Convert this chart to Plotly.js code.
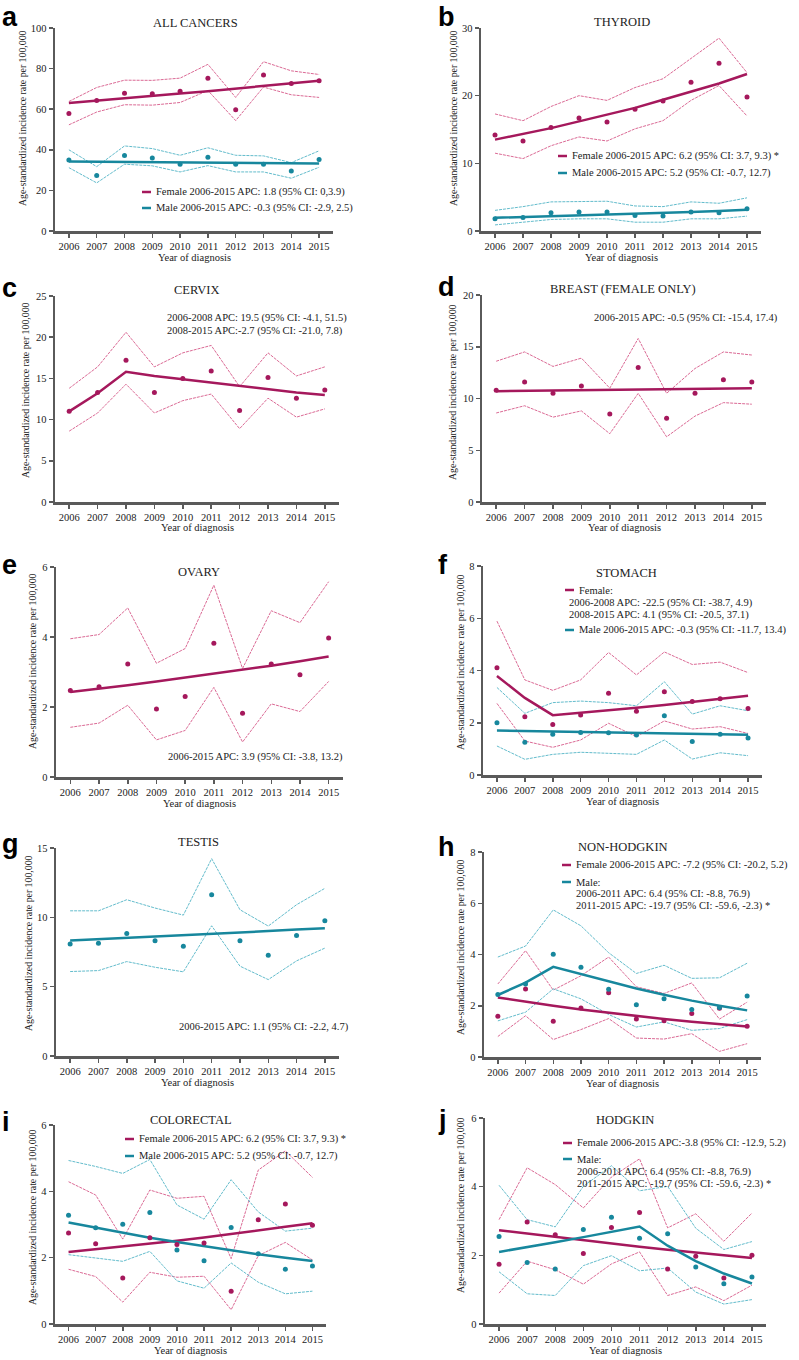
<!DOCTYPE html>
<html>
<head>
<meta charset="utf-8">
<script src="https://cdn.plot.ly/plotly-3.0.1.min.js"></script>
<style>
  html, body { margin: 0; padding: 0; background: #fff; }
  #chart { width: 799px; height: 1360px; }
</style>
</head>
<body>
<div id="chart"></div>
<script>
// years on every x axis
var years = [2006, 2007, 2008, 2009, 2010, 2011, 2012, 2013, 2014, 2015];

// a - all cancers
var aFemaleObs = [57.9, 64.3, 67.9, 67.6, 68.8, 75.3, 59.7, 76.8, 72.6, 74.0];
var aFemaleFit = [63.0, 64.1, 65.3, 66.5, 67.7, 68.9, 70.1, 71.4, 72.7, 74.0];
var aFemaleUp  = [63.8, 70.7, 74.3, 74.2, 75.3, 82.1, 65.8, 83.4, 78.9, 77.1];
var aFemaleLo  = [52.3, 58.6, 62.2, 62.0, 63.3, 69.2, 54.4, 70.9, 67.1, 65.8];
var aMaleObs = [35.0, 27.3, 37.2, 36.0, 32.9, 36.3, 32.9, 32.9, 29.6, 35.2];
var aMaleFit = [34.2, 34.1, 34.0, 33.9, 33.8, 33.7, 33.6, 33.5, 33.4, 33.3];
var aMaleUp  = [40.0, 31.7, 41.9, 40.6, 37.3, 41.0, 37.3, 37.0, 33.7, 39.5];
var aMaleLo  = [31.2, 23.7, 32.9, 32.1, 29.1, 32.2, 29.1, 29.1, 26.0, 31.4];

// b - thyroid
var bFemaleObs = [14.2, 13.3, 15.3, 16.7, 16.1, 18.0, 19.2, 22.0, 24.8, 19.8];
var bFemaleFit = [13.5, 14.3, 15.2, 16.2, 17.2, 18.2, 19.4, 20.6, 21.8, 23.2];
var bFemaleUp  = [17.3, 16.3, 18.4, 20.0, 19.3, 21.2, 22.5, 25.5, 28.5, 23.4];
var bFemaleLo  = [11.5, 10.7, 12.6, 13.9, 13.3, 15.1, 16.3, 19.3, 21.5, 17.0];
var bMaleObs = [1.8, 2.0, 2.7, 2.8, 2.8, 2.3, 2.2, 2.8, 2.7, 3.3];
var bMaleFit = [1.95, 2.06, 2.18, 2.3, 2.42, 2.55, 2.68, 2.82, 2.97, 3.15];
var bMaleUp  = [3.05, 3.6, 4.3, 4.4, 4.4, 3.7, 3.6, 4.3, 4.1, 4.9];
var bMaleLo  = [0.9, 1.3, 1.7, 1.8, 1.8, 1.3, 1.3, 1.8, 1.8, 2.2];

// c - cervix
var cObs = [11.0, 13.3, 17.2, 13.3, 15.0, 15.9, 11.1, 15.1, 12.6, 13.6];
var cFit = [11.0, 13.2, 15.8, 15.3, 14.9, 14.5, 14.1, 13.7, 13.3, 13.0];
var cUp  = [13.8, 16.4, 20.6, 16.4, 18.1, 19.0, 14.0, 18.1, 15.3, 16.4];
var cLo  = [8.6, 10.8, 14.3, 10.8, 12.3, 13.1, 8.9, 12.6, 10.3, 11.3];

// d - breast
var dObs = [10.8, 11.6, 10.5, 11.2, 8.5, 13.0, 8.1, 10.5, 11.8, 11.6];
var dFit = [10.7, 10.73, 10.77, 10.8, 10.83, 10.87, 10.9, 10.93, 10.97, 11.0];
var dUp  = [13.6, 14.5, 13.1, 13.9, 11.0, 15.8, 10.5, 12.9, 14.5, 14.2];
var dLo  = [8.6, 9.3, 8.2, 8.8, 6.6, 10.5, 6.3, 8.3, 9.6, 9.45];

// e - ovary
var eObs = [2.47, 2.58, 3.23, 1.94, 2.30, 3.82, 1.82, 3.23, 2.92, 3.97];
var eFit = [2.43, 2.52, 2.62, 2.73, 2.84, 2.95, 3.06, 3.18, 3.31, 3.44];
var eUp  = [3.95, 4.07, 4.83, 3.25, 3.67, 5.48, 3.10, 4.75, 4.41, 5.58];
var eLo  = [1.42, 1.54, 2.05, 1.06, 1.33, 2.56, 1.0, 2.09, 1.87, 2.73];

// f - stomach
var fFemaleObs = [4.11, 2.23, 1.93, 2.30, 3.13, 2.44, 3.19, 2.81, 2.92, 2.55];
var fFemaleFit = [3.79, 2.95, 2.29, 2.38, 2.47, 2.57, 2.68, 2.79, 2.90, 3.03];
var fFemaleUp  = [5.89, 3.64, 3.24, 3.64, 4.69, 3.83, 4.71, 4.23, 4.32, 3.92];
var fFemaleLo  = [2.74, 1.30, 1.06, 1.34, 1.98, 1.47, 2.07, 1.76, 1.85, 1.59];
var fMaleObs = [2.0, 1.25, 1.56, 1.63, 1.62, 1.53, 2.27, 1.28, 1.56, 1.42];
var fMaleFit = [1.70, 1.68, 1.66, 1.65, 1.63, 1.61, 1.59, 1.58, 1.56, 1.54];
var fMaleUp  = [3.35, 2.36, 2.77, 2.83, 2.77, 2.65, 3.57, 2.33, 2.65, 2.46];
var fMaleLo  = [1.11, 0.60, 0.79, 0.87, 0.83, 0.79, 1.34, 0.61, 0.85, 0.74];

// g - testis
var gObs = [8.07, 8.14, 8.84, 8.31, 7.92, 11.63, 8.31, 7.27, 8.69, 9.75];
var gFit = [8.33, 8.42, 8.52, 8.61, 8.71, 8.81, 8.91, 9.01, 9.12, 9.22];
var gUp  = [10.47, 10.47, 11.27, 10.67, 10.16, 14.23, 10.55, 9.37, 10.91, 12.09];
var gLo  = [6.09, 6.16, 6.81, 6.40, 6.07, 9.39, 6.48, 5.51, 6.86, 7.78];

// h - non-hodgkin
var hFemaleObs = [1.59, 2.65, 1.40, 1.91, 2.51, 1.48, 1.41, 1.70, 1.90, 1.20];
var hFemaleFit = [2.32, 2.15, 2.00, 1.85, 1.72, 1.60, 1.48, 1.38, 1.28, 1.19];
var hFemaleUp  = [2.85, 4.15, 2.61, 3.17, 3.90, 2.74, 2.48, 2.89, 1.48, 2.14];
var hFemaleLo  = [0.80, 1.61, 0.68, 1.07, 1.50, 0.74, 0.70, 0.91, 0.22, 0.52];
var hMaleObs = [2.44, 2.85, 4.01, 3.50, 2.64, 2.04, 2.27, 1.85, 1.93, 2.38];
var hMaleFit = [2.42, 2.90, 3.52, 3.23, 2.94, 2.67, 2.43, 2.20, 2.00, 1.82];
var hMaleUp  = [3.90, 4.33, 5.74, 5.12, 4.07, 3.26, 3.58, 3.07, 3.09, 3.66];
var hMaleLo  = [1.41, 1.75, 2.66, 2.27, 1.66, 1.17, 1.37, 1.04, 1.11, 1.46];

// i - colorectal
var iFemaleObs = [2.74, 2.42, 1.39, 2.60, 2.40, 2.44, 0.99, 3.14, 3.62, 2.98];
var iFemaleFit = [2.17, 2.25, 2.33, 2.42, 2.51, 2.61, 2.71, 2.82, 2.93, 3.04];
var iFemaleUp  = [4.29, 3.89, 2.56, 4.04, 3.79, 3.85, 1.97, 4.64, 5.22, 4.42];
var iFemaleLo  = [1.65, 1.43, 0.66, 1.56, 1.41, 1.44, 0.43, 2.06, 2.46, 1.93];
var iMaleObs = [3.28, 2.90, 3.01, 3.36, 2.23, 1.91, 2.91, 2.12, 1.65, 1.75];
var iMaleFit = [3.06, 2.90, 2.75, 2.60, 2.47, 2.34, 2.22, 2.10, 2.00, 1.90];
var iMaleUp  = [4.93, 4.75, 4.54, 4.96, 3.59, 3.16, 4.35, 3.38, 2.80, 2.89];
var iMaleLo  = [2.09, 1.99, 1.89, 2.19, 1.30, 1.08, 1.84, 1.26, 0.91, 0.99];

// j - hodgkin
var jFemaleObs = [1.74, 2.97, 2.60, 2.05, 2.81, 3.25, 1.60, 1.97, 1.34, 2.00];
var jFemaleFit = [2.73, 2.63, 2.53, 2.43, 2.34, 2.25, 2.16, 2.08, 2.00, 1.92];
var jFemaleUp  = [3.04, 4.55, 4.06, 3.38, 4.28, 4.81, 2.80, 3.21, 2.41, 3.23];
var jFemaleLo  = [0.90, 1.83, 1.58, 1.16, 1.75, 2.10, 0.83, 1.08, 0.68, 1.13];
var jMaleObs = [2.55, 1.79, 1.60, 2.75, 3.11, 2.50, 2.63, 1.66, 1.17, 1.37];
var jMaleFit = [2.10, 2.23, 2.38, 2.53, 2.69, 2.84, 2.28, 1.83, 1.47, 1.18];
var jMaleUp  = [4.04, 3.04, 2.83, 4.01, 4.61, 3.88, 4.01, 2.79, 2.17, 2.40];
var jMaleLo  = [1.52, 0.88, 0.83, 1.70, 1.99, 1.55, 1.63, 0.93, 0.58, 0.71];

// styling
var W = 799, H = 1360;
var SERIF = 'Liberation Serif, Times New Roman, serif';
var SANS = 'Liberation Sans, Arial, sans-serif';
var AXIS = '#5a5a5a';
var TXT = '#222';
var COL = {
  f: {main: '#a5185c', ci: '#db6a95'},
  m: {main: '#17879d', ci: '#63bccc'}
};
var YTITLE = 'Age-standardized incidence rate per 100,000';

function px(x) { return x / W; }
function py(y) { return 1 - y / H; }

// layout of each panel (pixel boxes), plus its series and legend lines
var panels = [
  {letter: 'a', title: 'ALL CANCERS', ymax: 100, dtick: 20, box: [55, 333, 28, 231],
   titlePos: [195, 23], letterPos: [0, 17], yt: [22, 118],
   series: [['f', aFemaleObs, aFemaleFit, aFemaleUp, aFemaleLo], ['m', aMaleObs, aMaleFit, aMaleUp, aMaleLo]],
   legend: [[154, 192, 'Female 2006-2015 APC: 1.8 (95% CI: 0,3.9)', 'f'],
            [154, 208, 'Male 2006-2015 APC: -0.3 (95% CI: -2.9, 2.5)', 'm']]},
  {letter: 'b', title: 'THYROID', ymax: 30, dtick: 10, box: [481, 761, 28, 231],
   titlePos: [622, 22], letterPos: [436, 17], yt: [453, 118],
   series: [['f', bFemaleObs, bFemaleFit, bFemaleUp, bFemaleLo], ['m', bMaleObs, bMaleFit, bMaleUp, bMaleLo]],
   legend: [[570, 156, 'Female 2006-2015 APC: 6.2 (95% CI: 3.7, 9.3) *', 'f'],
            [570, 173, 'Male 2006-2015 APC: 5.2 (95% CI: -0.7, 12.7)', 'm']]},
  {letter: 'c', title: 'CERVIX', ymax: 25, dtick: 5, box: [55, 339, 296, 502],
   titlePos: [197, 290], letterPos: [0, 288], yt: [25, 390],
   series: [['f', cObs, cFit, cUp, cLo]],
   legend: [[165, 318, '2006-2008 APC: 19.5 (95% CI: -4.1, 51.5)', null],
            [165, 331, '2008-2015 APC:-2.7 (95% CI: -21.0, 7.8)', null]]},
  {letter: 'd', title: 'BREAST (FEMALE ONLY)', ymax: 20, dtick: 5, box: [482, 766, 295, 502],
   titlePos: [623, 289], letterPos: [436, 287], yt: [453, 392],
   series: [['f', dObs, dFit, dUp, dLo]],
   legend: [[592, 318, '2006-2015 APC: -0.5 (95% CI: -15.4, 17.4)', null]]},
  {letter: 'e', title: 'OVARY', ymax: 6, dtick: 2, box: [56, 343, 567, 777],
   titlePos: [199, 572], letterPos: [0, 565], yt: [32, 661],
   series: [['f', eObs, eFit, eUp, eLo]],
   legend: [[166, 757, '2006-2015 APC: 3.9 (95% CI: -3.8, 13.2)', null]]},
  {letter: 'f', title: 'STOMACH', ymax: 8, dtick: 2, box: [483, 762, 566, 775],
   titlePos: [626, 573], letterPos: [436, 565], yt: [460, 662],
   series: [['f', fFemaleObs, fFemaleFit, fFemaleUp, fFemaleLo], ['m', fMaleObs, fMaleFit, fMaleUp, fMaleLo]],
   legend: [[577, 590, 'Female:', 'f'],
            [567, 603, '2006-2008 APC: -22.5 (95% CI: -38.7, 4.9)', null],
            [567, 615, '2008-2015 APC: 4.1 (95% CI: -20.5, 37.1)', null],
            [577, 630, 'Male 2006-2015 APC: -0.3 (95% CI: -11.7, 13.4)', 'm']]},
  {letter: 'g', title: 'TESTIS', ymax: 15, dtick: 5, box: [56, 339, 848, 1056],
   titlePos: [198, 842], letterPos: [0, 844], yt: [28, 943],
   series: [['m', gObs, gFit, gUp, gLo]],
   legend: [[177, 1027, '2006-2015 APC: 1.1 (95% CI: -2.2, 4.7)', null]]},
  {letter: 'h', title: 'NON-HODGKIN', ymax: 8, dtick: 2, box: [484, 761, 852, 1057],
   titlePos: [623, 847], letterPos: [436, 847], yt: [460, 947],
   series: [['f', hFemaleObs, hFemaleFit, hFemaleUp, hFemaleLo], ['m', hMaleObs, hMaleFit, hMaleUp, hMaleLo]],
   legend: [[574, 865, 'Female 2006-2015 APC: -7.2 (95% CI: -20.2, 5.2)', 'f'],
            [574, 882, 'Male:', 'm'],
            [574, 894, '2006-2011 APC: 6.4 (95% CI: -8.8, 76.9)', null],
            [574, 906, '2011-2015 APC: -19.7 (95% CI: -59.6, -2.3) *', null]]},
  {letter: 'i', title: 'COLORECTAL', ymax: 6, dtick: 2, box: [55, 326, 1125, 1324],
   titlePos: [191, 1120], letterPos: [0, 1122], yt: [32, 1217],
   series: [['f', iFemaleObs, iFemaleFit, iFemaleUp, iFemaleLo], ['m', iMaleObs, iMaleFit, iMaleUp, iMaleLo]],
   legend: [[137, 1139, 'Female 2006-2015 APC: 6.2 (95% CI: 3.7, 9.3) *', 'f'],
            [137, 1156, 'Male 2006-2015 APC: 5.2 (95% CI: -0.7, 12.7)', 'm']]},
  {letter: 'j', title: 'HODGKIN', ymax: 6, dtick: 2, box: [485, 766, 1118, 1324],
   titlePos: [625, 1120], letterPos: [436, 1120], yt: [460, 1205],
   series: [['f', jFemaleObs, jFemaleFit, jFemaleUp, jFemaleLo], ['m', jMaleObs, jMaleFit, jMaleUp, jMaleLo]],
   legend: [[575, 1143, 'Female 2006-2015 APC:-3.8 (95% CI: -12.9, 5.2)', 'f'],
            [575, 1159, 'Male:', 'm'],
            [575, 1172, '2006-2011 APC: 6.4 (95% CI: -8.8, 76.9)', null],
            [575, 1184, '2011-2015 APC: -19.7 (95% CI: -59.6, -2.3) *', null]]}
];

var data = [];
var annotations = [];
var shapes = [];
var layout = {
  width: W, height: H,
  margin: {l: 0, r: 0, t: 0, b: 0},
  paper_bgcolor: '#fff', plot_bgcolor: 'rgba(0,0,0,0)',
  showlegend: false,
  font: {family: SERIF, color: TXT}
};

function note(x, y, text, opts) {
  var a = {xref: 'paper', yref: 'paper', x: px(x), y: py(y), text: text, showarrow: false,
           xanchor: 'left', yanchor: 'middle', font: {family: SERIF, size: 10.5, color: TXT}};
  for (var k in opts) a[k] = opts[k];
  annotations.push(a);
}

panels.forEach(function (p, i) {
  var s = i === 0 ? '' : String(i + 1);
  var xa = 'x' + s, ya = 'y' + s;
  layout['xaxis' + s] = {
    domain: [px(p.box[0]), px(p.box[1])], anchor: ya,
    range: [2005.5, 2015.5], tickmode: 'array', tickvals: years, ticktext: years.map(String),
    showline: true, linecolor: AXIS, linewidth: 2.5, ticks: 'outside', ticklen: 4,
    tickwidth: 1.5, tickcolor: AXIS, showgrid: false, zeroline: false, fixedrange: true,
    tickfont: {family: SERIF, size: 10.5, color: TXT}
  };
  layout['yaxis' + s] = {
    domain: [py(p.box[3]), py(p.box[2])], anchor: xa,
    range: [0, p.ymax], tick0: 0, dtick: p.dtick,
    showline: true, linecolor: AXIS, linewidth: 2.5, ticks: 'outside', ticklen: 4,
    tickwidth: 1.5, tickcolor: AXIS, showgrid: false, zeroline: false, fixedrange: true,
    tickfont: {family: SERIF, size: 10.5, color: TXT}
  };

  // confidence bands first, then fitted trends, then observed rates
  p.series.forEach(function (sr) {
    [sr[3], sr[4]].forEach(function (arr) {
      data.push({x: years, y: arr, xaxis: xa, yaxis: ya, mode: 'lines', hoverinfo: 'skip',
                 line: {color: COL[sr[0]].ci, width: 1, dash: '3px,1px'}});
    });
  });
  p.series.forEach(function (sr) {
    data.push({x: years, y: sr[2], xaxis: xa, yaxis: ya, mode: 'lines',
               line: {color: COL[sr[0]].main, width: 2.5}});
  });
  p.series.forEach(function (sr) {
    data.push({x: years, y: sr[1], xaxis: xa, yaxis: ya, mode: 'markers', cliponaxis: false,
               marker: {color: COL[sr[0]].main, size: 5}});
  });

  var cx = (p.box[0] + p.box[1]) / 2;
  note(p.titlePos[0], p.titlePos[1], p.title, {xanchor: 'center', font: {family: SERIF, size: 12.5, color: TXT}});
  note(p.letterPos[0], p.letterPos[1], '<b>' + p.letter + '</b>', {font: {family: SANS, size: 27, color: '#000'}});
  note(p.yt[0], p.yt[1], YTITLE, {xanchor: 'center', textangle: -90, font: {family: SERIF, size: 9.8, color: TXT}});
  note(cx, p.box[3] + 26, 'Year of diagnosis', {xanchor: 'center', font: {family: SERIF, size: 10.5, color: TXT}});

  p.legend.forEach(function (l) {
    note(l[0], l[1], l[2]);
    if (l[3]) {
      shapes.push({type: 'line', xref: 'paper', yref: 'paper',
                   x0: px(l[0] - 12), x1: px(l[0] - 3), y0: py(l[1]), y1: py(l[1]),
                   line: {color: COL[l[3]].main, width: 2.5}});
    }
  });
});

layout.annotations = annotations;
layout.shapes = shapes;

Plotly.newPlot('chart', data, layout, {staticPlot: true, displayModeBar: false});
</script>
</body>
</html>
